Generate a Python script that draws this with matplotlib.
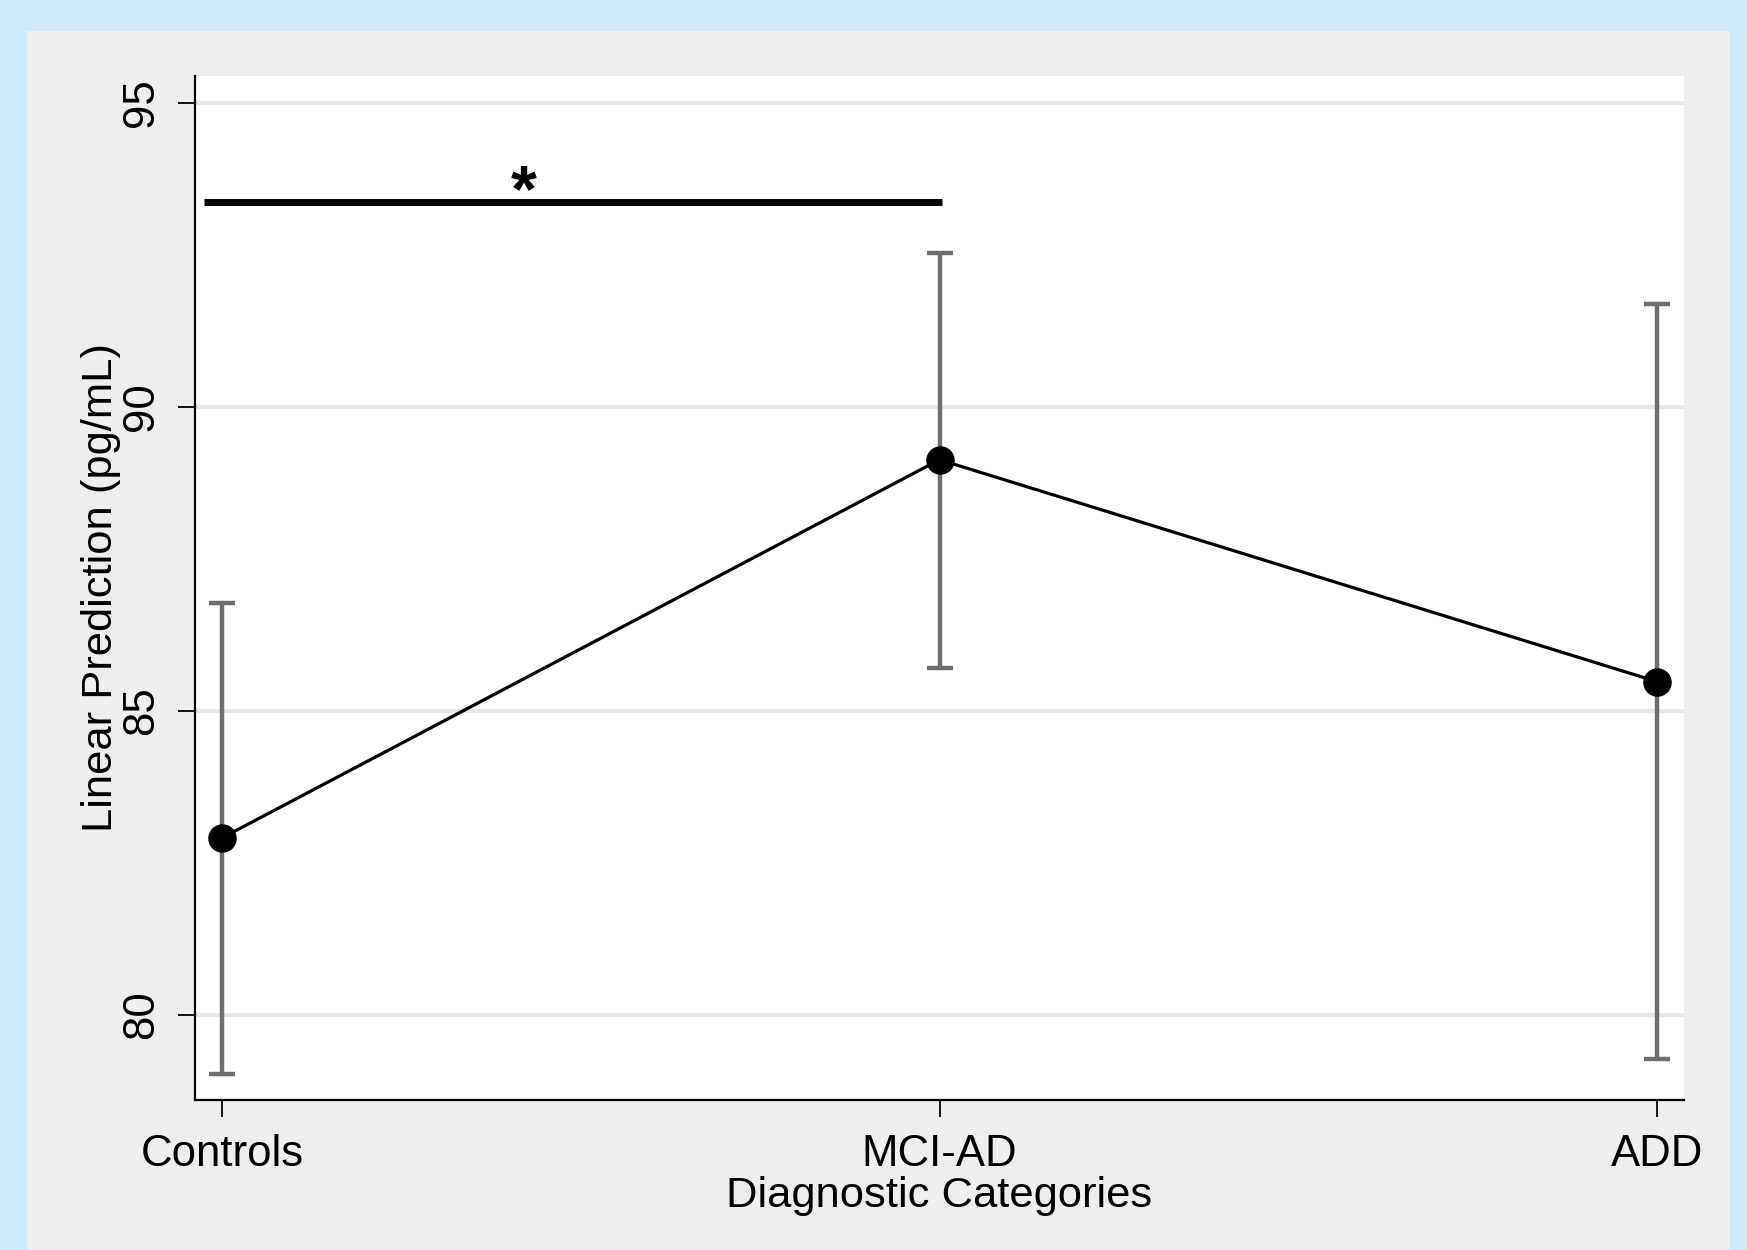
import matplotlib
matplotlib.use("Agg")
import matplotlib.pyplot as plt
from matplotlib.patches import Rectangle

plt.rcParams['font.family'] = ['Liberation Sans', 'DejaVu Sans']

categories = ["Controls", "MCI-AD", "ADD"]
means = [82.91, 89.13, 85.48]
ci_low = [79.03, 85.70, 79.28]
ci_high = [86.78, 92.53, 91.69]
yticks = [80, 85, 90, 95]
sig_bar_y = 93.37
sig_bar_x = [-0.025, 1.004]
sig_label = '*'
sig_label_x = 0.421

W, H = 1747, 1250
fig = plt.figure(figsize=(W / 100, H / 100), dpi=100)
fig.patch.set_facecolor('#cceafc')
fig.patches.append(Rectangle((27 / W, 0), (1730 - 27) / W, (H - 31) / H,
                             transform=fig.transFigure, facecolor='#eeeeee',
                             edgecolor='none', zorder=-10))

ax = fig.add_axes([195 / W, (H - 1100) / H, (1684 - 195) / W, (1100 - 76) / H])
ax.set_zorder(5)
ax.set_facecolor('white')
x = list(range(len(categories)))

for yt in yticks:
    ax.axhline(yt, color='#e8e8e8', lw=3, zorder=1)

yerr = [[m - l for m, l in zip(means, ci_low)], [h - m for m, h in zip(means, ci_high)]]
ax.errorbar(x, means, yerr=yerr, fmt='none', ecolor='#6e6e6e', elinewidth=3.2,
            capsize=9.5, capthick=3.2, zorder=2)
ax.plot(x, means, color='black', lw=2.3, zorder=3)
ax.plot(x, means, 'o', color='black', markersize=19.5, zorder=4)

ax.plot(sig_bar_x, [sig_bar_y, sig_bar_y], color='black', lw=5, solid_capstyle='butt', zorder=3)
ax.text(sig_label_x, 93.22, sig_label, ha='center', va='baseline', fontsize=48,
        fontweight='bold', zorder=6)

ax.set_xlim(-0.0376, 2.0376)
ax.set_ylim(78.6, 95.44)
ax.set_xticks(x)
ax.set_xticklabels(categories)
ax.set_yticks(yticks)
ax.set_yticklabels([str(v) for v in yticks], rotation=90, va='center')

for s in ['top', 'right']:
    ax.spines[s].set_visible(False)
for s in ['left', 'bottom']:
    ax.spines[s].set_linewidth(1.6)
    ax.spines[s].set_color('black')

ax.tick_params(axis='both', length=12.5, width=1.3, labelsize=31.5, colors='black')
ax.tick_params(axis='y', pad=11)
ax.tick_params(axis='x', pad=12)

ax.set_xlabel('Diagnostic Categories', fontsize=31.3, labelpad=1)
ax.set_ylabel('Linear Prediction (pg/mL)', fontsize=31.3, labelpad=0)

fig.savefig('out.png', dpi=100, facecolor=fig.get_facecolor())
